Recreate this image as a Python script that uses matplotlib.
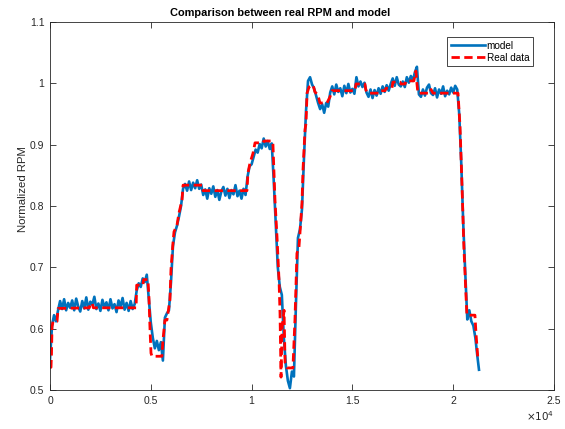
import matplotlib
matplotlib.use("Agg")
import matplotlib.pyplot as plt
from matplotlib.ticker import FuncFormatter

plt.rcParams['font.family'] = ['Liberation Sans', 'DejaVu Sans']

# --- dados: degraus do RPM real (normalizado) ---
real_x = [0, 50, 75, 100, 150, 350, 400, 1950, 2000, 2100, 2150, 4270, 4300,
          4610, 4640, 4860, 4910, 4960, 5010, 5060, 5550, 5600, 5700, 5800,
          5950, 6000, 6100, 6150, 6300, 6400, 6550, 6600, 7540, 7590, 9770,
          9820, 9920, 10070, 10170, 10560, 10610, 11010, 11060, 11160, 11260,
          11360, 11410, 11460, 11510, 11610, 11660, 11760, 12050, 12150, 12250,
          12350, 12400, 12500, 12550, 12650, 12700, 12750, 12850, 13050, 13140,
          13290, 13390, 13740, 13890, 13990, 15130, 15180, 15620, 15670, 15770,
          16370, 16420, 16620, 16670, 16960, 17010, 17360, 17410, 17610, 17660,
          18050, 18150, 18200, 18250, 18850, 18900, 19000, 20240, 20340, 20440,
          20530, 20630, 20680, 21080, 21130, 21230]
real_y = [0.537, 0.537, 0.560, 0.603, 0.612, 0.612, 0.633, 0.634, 0.641, 0.641,
          0.634, 0.634, 0.671, 0.671, 0.680, 0.680, 0.650, 0.600, 0.560, 0.555,
          0.555, 0.580, 0.614, 0.614, 0.647, 0.696, 0.740, 0.758, 0.769, 0.789,
          0.810, 0.834, 0.834, 0.825, 0.825, 0.854, 0.870, 0.886, 0.903, 0.903,
          0.906, 0.906, 0.900, 0.810, 0.750, 0.680, 0.625, 0.521, 0.600, 0.630,
          0.545, 0.536, 0.536, 0.614, 0.723, 0.733, 0.756, 0.805, 0.859, 0.924,
          0.935, 0.984, 0.994, 0.997, 0.986, 0.981, 0.968, 0.968, 0.978, 0.988,
          0.988, 0.999, 0.999, 0.989, 0.984, 0.984, 0.988, 0.988, 0.992, 0.992,
          1.002, 1.002, 0.999, 0.999, 1.004, 1.004, 1.020, 1.000, 0.984, 0.984,
          0.990, 0.984, 0.984, 0.929, 0.831, 0.733, 0.658, 0.622, 0.622, 0.593,
          0.549]

# --- dados: saida do modelo (lida a cada 100 amostras) ---
model_x = list(range(0, 21300, 100)) + [21280]
model_y = [
    0.550, 0.605, 0.622, 0.612, 0.630, 0.645, 0.632, 0.648, 0.630, 0.642,
    0.634, 0.646, 0.630, 0.649, 0.636, 0.628, 0.645, 0.633, 0.651, 0.631,
    0.644, 0.639, 0.652, 0.632, 0.641, 0.629, 0.647, 0.635, 0.643, 0.630,
    0.648, 0.633, 0.640, 0.627, 0.646, 0.636, 0.650, 0.631, 0.642, 0.629,
    0.645, 0.632, 0.640, 0.662, 0.674, 0.668, 0.682, 0.676, 0.688, 0.650,
    0.610, 0.585, 0.568, 0.580, 0.565, 0.578, 0.548, 0.618, 0.625, 0.630,
    0.675, 0.735, 0.757, 0.768, 0.783, 0.800, 0.828, 0.836, 0.825, 0.840,
    0.826, 0.838, 0.829, 0.842, 0.828, 0.835, 0.818, 0.827, 0.812, 0.829,
    0.820, 0.832, 0.815, 0.826, 0.810, 0.824, 0.831, 0.817, 0.828, 0.813,
    0.826, 0.819, 0.834, 0.816, 0.825, 0.812, 0.828, 0.818, 0.848, 0.865,
    0.868, 0.880, 0.892, 0.887, 0.901, 0.894, 0.910, 0.897, 0.906, 0.893,
    0.902, 0.840, 0.770, 0.700, 0.668, 0.655, 0.585, 0.540, 0.515, 0.503,
    0.530, 0.522, 0.640, 0.748, 0.762, 0.795, 0.880, 0.955, 1.004, 1.010,
    0.998, 0.992, 0.980, 0.968, 0.958, 0.966, 0.952, 0.968, 0.962, 0.985,
    0.995, 0.982, 0.998, 0.986, 0.992, 0.979, 0.996, 0.984, 0.999, 0.985,
    0.991, 0.983, 1.010, 0.995, 1.003, 0.994, 1.001, 0.985, 0.978, 0.990,
    0.976, 0.989, 0.980, 0.992, 0.983, 0.995, 0.986, 0.997, 0.988, 0.999,
    1.008, 0.996, 1.010, 0.998, 0.995, 1.003, 0.994, 1.010, 1.001, 1.012,
    1.004, 1.018, 1.027, 0.982, 0.978, 0.990, 0.980, 0.993, 0.998, 0.984,
    0.981, 0.992, 0.977, 0.990, 0.983, 0.995, 0.979, 0.988, 0.982, 0.993,
    0.985, 0.996, 0.990, 0.950, 0.870, 0.770, 0.690, 0.615, 0.630, 0.612,
    0.605, 0.585, 0.555, 0.533,
]

x_ticks = [0, 5000, 10000, 15000, 20000, 25000]
y_ticks = [0.5, 0.6, 0.7, 0.8, 0.9, 1.0, 1.1]

fig = plt.figure(figsize=(5.65, 4.29), dpi=100)
ax = fig.add_axes([0.0885, 0.0909, 0.892, 0.8578])

ax.plot(model_x, model_y, color='#0072BD', linewidth=1.9, label='model')
ax.plot(real_x, real_y, 'r--', linewidth=2.0, dashes=(3.0, 1.6), label='Real data')

ax.set_xlim(0, 25000)
ax.set_ylim(0.5, 1.1)
ax.set_xticks(x_ticks)
ax.set_yticks(y_ticks)
ax.xaxis.set_major_formatter(FuncFormatter(lambda v, p: '%g' % (v / 1e4)))
ax.yaxis.set_major_formatter(FuncFormatter(lambda v, p: '%g' % v))
ax.tick_params(direction='in', length=4, width=0.6, top=True, right=True,
               labelsize=7.5, colors='#262626', pad=4)
for s in ax.spines.values():
    s.set_linewidth(0.6)
    s.set_color('#262626')

ax.text(1.0, -0.052, r'$\times10^{4}$', transform=ax.transAxes, ha='right',
        va='top', fontsize=7.5, color='#262626')

ax.set_title('Comparison between real RPM and model', fontsize=7.9,
             fontweight='bold', pad=4, x=0.456)
ax.set_ylabel('Normalized RPM', fontsize=8.2, color='#262626')
ax.yaxis.set_label_coords(-0.043, 0.545)

leg = ax.legend(loc='upper right', bbox_to_anchor=(0.958, 0.959),
                borderaxespad=0, fontsize=7.2, handlelength=3.4,
                fancybox=False, framealpha=1, edgecolor='#262626',
                borderpad=0.35, labelspacing=0.2, handletextpad=0.2)
leg.get_frame().set_linewidth(0.6)

plt.savefig('out.png', dpi=100)
